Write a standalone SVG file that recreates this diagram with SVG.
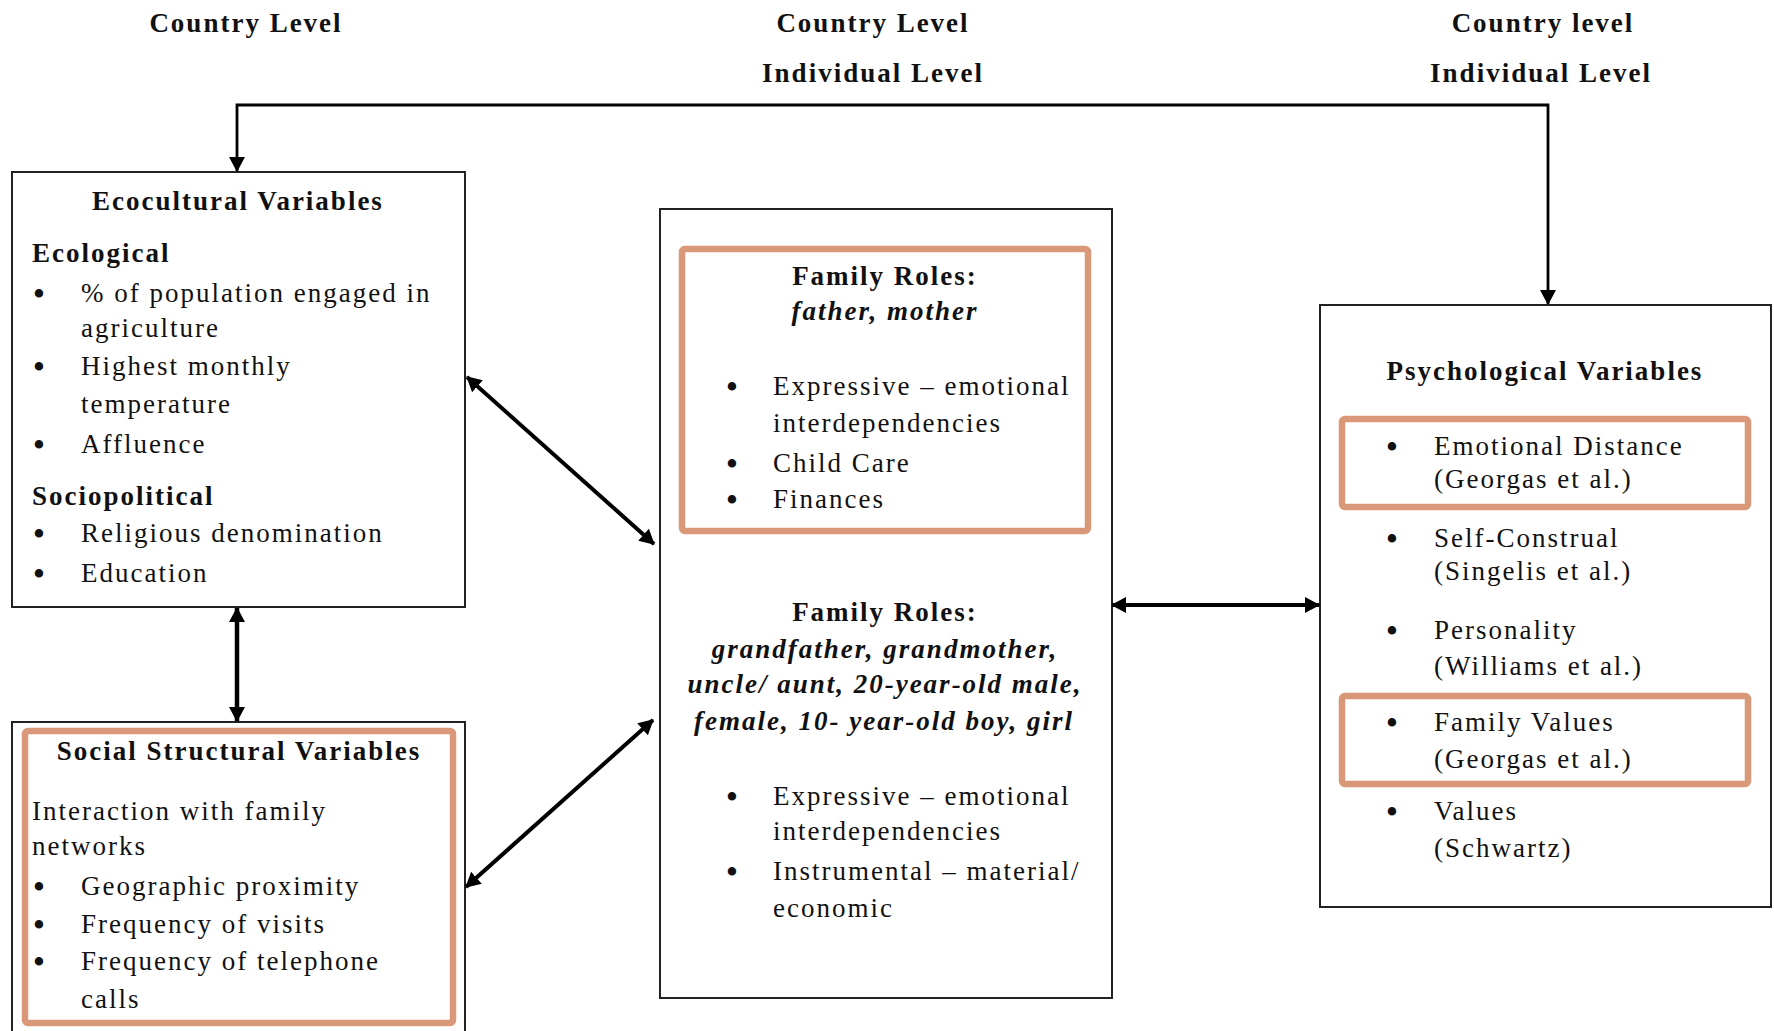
<svg xmlns="http://www.w3.org/2000/svg" width="1774" height="1031" viewBox="0 0 1774 1031">
<style>
.t{font-family:"Liberation Serif","Times New Roman",serif;font-size:27px;letter-spacing:2px;fill:#111}
.b{font-weight:bold}
.bi{font-weight:bold;font-style:italic}
.m{text-anchor:middle}
.u{font-size:31px;font-weight:bold;letter-spacing:0}
.box{fill:#fff;stroke:#222;stroke-width:2}
.ob{fill:none;stroke:#D99878;stroke-width:6.5}
.c{stroke:#000;fill:none}
</style>
<defs>
<marker id="ah" viewBox="0 0 15 16" refX="14" refY="8" markerWidth="15" markerHeight="16" markerUnits="userSpaceOnUse" orient="auto-start-reverse">
<path d="M0,0 L15,8 L0,16 z" fill="#000"/>
</marker>
</defs>
<rect width="1774" height="1031" fill="#fff"/>
<g id="headings" class="t b m">
<text x="246" y="32">Country Level</text>
<text x="873" y="32">Country Level</text>
<text x="873" y="82">Individual Level</text>
<text x="1543" y="32">Country level</text>
<text x="1541" y="82">Individual Level</text>
</g>
<g id="ecocultural">
<rect class="box" x="12" y="172" width="453" height="435"/>
<g class="t">
<text class="b m" x="238" y="210">Ecocultural Variables</text>
<text class="b" x="32" y="262">Ecological</text>
<text class="m u" x="39" y="304">•</text><text x="81" y="302">% of population engaged in</text>
<text x="81" y="337">agriculture</text>
<text class="m u" x="39" y="377">•</text><text x="81" y="375">Highest monthly</text>
<text x="81" y="413">temperature</text>
<text class="m u" x="39" y="455">•</text><text x="81" y="453">Affluence</text>
<text class="b" x="32" y="505">Sociopolitical</text>
<text class="m u" x="39" y="544">•</text><text x="81" y="542">Religious denomination</text>
<text class="m u" x="39" y="584">•</text><text x="81" y="582">Education</text>
</g>
</g>
<g id="social">
<rect class="box" x="12" y="722" width="453" height="330"/>
<rect class="ob" x="25" y="731" width="428" height="292" rx="3"/>
<g class="t">
<text class="b m" x="239" y="760">Social Structural Variables</text>
<text x="32" y="820">Interaction with family</text>
<text x="32" y="855">networks</text>
<text class="m u" x="39" y="897">•</text><text x="81" y="895">Geographic proximity</text>
<text class="m u" x="39" y="935">•</text><text x="81" y="933">Frequency of visits</text>
<text class="m u" x="39" y="972">•</text><text x="81" y="970">Frequency of telephone</text>
<text x="81" y="1008">calls</text>
</g>
</g>
<g id="family">
<rect class="box" x="660" y="209" width="452" height="789"/>
<rect class="ob" x="682" y="249" width="406" height="282" rx="3"/>
<g class="t">
<text class="b m" x="885" y="285">Family Roles:</text>
<text class="bi m" x="885" y="320">father, mother</text>
<text class="m u" x="732" y="397">•</text><text x="773" y="395">Expressive – emotional</text>
<text x="773" y="432">interdependencies</text>
<text class="m u" x="732" y="474">•</text><text x="773" y="472">Child Care</text>
<text class="m u" x="732" y="510">•</text><text x="773" y="508">Finances</text>
<text class="b m" x="885" y="621">Family Roles:</text>
<text class="bi m" x="885" y="658">grandfather, grandmother,</text>
<text class="bi m" x="885" y="693">uncle/ aunt, 20-year-old male,</text>
<text class="bi m" x="884" y="730">female, 10- year-old boy, girl</text>
<text class="m u" x="732" y="807">•</text><text x="773" y="805">Expressive – emotional</text>
<text x="773" y="840">interdependencies</text>
<text class="m u" x="732" y="882">•</text><text x="773" y="880">Instrumental – material/</text>
<text x="773" y="917">economic</text>
</g>
</g>
<g id="psychological">
<rect class="box" x="1320" y="305" width="451" height="602"/>
<rect class="ob" x="1342" y="419" width="406" height="88" rx="3"/>
<rect class="ob" x="1342" y="696" width="406" height="88" rx="3"/>
<g class="t">
<text class="b m" x="1545" y="380">Psychological Variables</text>
<text class="m u" x="1392" y="457">•</text><text x="1434" y="455">Emotional Distance</text>
<text x="1434" y="488">(Georgas et al.)</text>
<text class="m u" x="1392" y="549">•</text><text x="1434" y="547">Self-Construal</text>
<text x="1434" y="580">(Singelis et al.)</text>
<text class="m u" x="1392" y="641">•</text><text x="1434" y="639">Personality</text>
<text x="1434" y="675">(Williams et al.)</text>
<text class="m u" x="1392" y="733">•</text><text x="1434" y="731">Family Values</text>
<text x="1434" y="768">(Georgas et al.)</text>
<text class="m u" x="1392" y="822">•</text><text x="1434" y="820">Values</text>
<text x="1434" y="857">(Schwartz)</text>
</g>
</g>
<g id="connectors" class="c">
<path d="M237,171 V105 H1548 V304" stroke-width="2.8" marker-start="url(#ah)" marker-end="url(#ah)"/>
<path d="M237,608 V721" stroke-width="4.5" marker-start="url(#ah)" marker-end="url(#ah)"/>
<path d="M467,377 L654,544" stroke-width="4" marker-start="url(#ah)" marker-end="url(#ah)"/>
<path d="M653,720 L466,887" stroke-width="4" marker-start="url(#ah)" marker-end="url(#ah)"/>
<path d="M1112,605 H1319" stroke-width="4" marker-start="url(#ah)" marker-end="url(#ah)"/>
</g>
</svg>
